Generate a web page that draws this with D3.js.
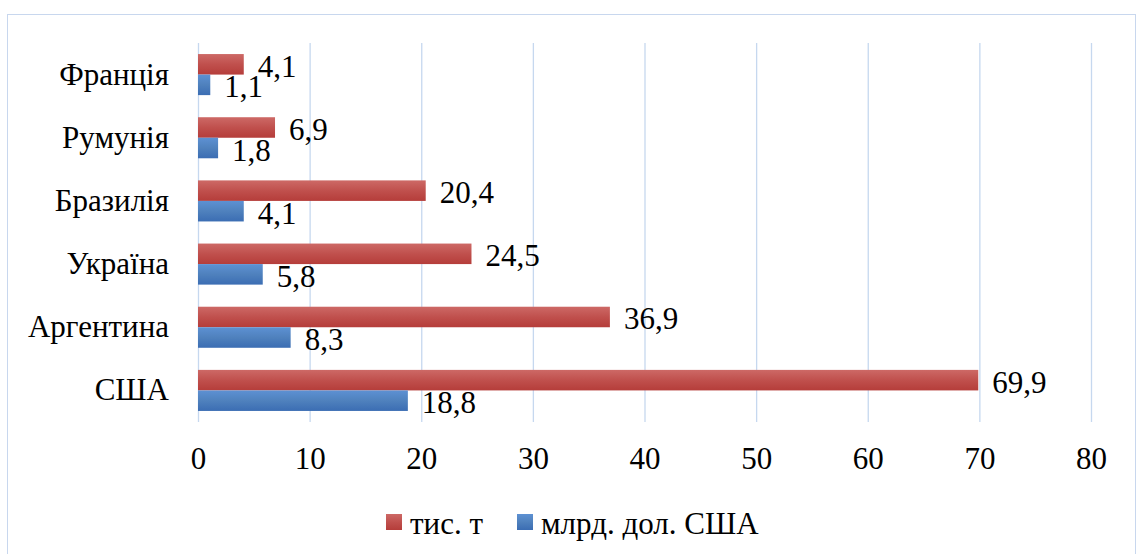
<!DOCTYPE html>
<html>
<head>
<meta charset="utf-8">
<script src="https://cdn.jsdelivr.net/npm/d3@7"></script>
<style>
  body { margin: 0; background: #fff; }
  text { font-family: "Liberation Serif", "Times New Roman", serif; }
</style>
</head>
<body>
<div id="chart"></div>
<script>
// chart data
var countries = ["Франція", "Румунія", "Бразилія", "Україна", "Аргентина", "США"];
var tonnes = [4.1, 6.9, 20.4, 24.5, 36.9, 69.9];
var dollars = [1.1, 1.8, 4.1, 5.8, 8.3, 18.8];
var seriesNames = ["тис. т", "млрд. дол. США"];
var xTicks = [0, 10, 20, 30, 40, 50, 60, 70, 80];

var W = 1138, H = 554;
var margin = {top: 43, right: 47, bottom: 132, left: 198},
    width = W - margin.left - margin.right,
    height = H - margin.top - margin.bottom;
var fontSize = "31px";

var svg = d3.select("#chart").append("svg")
    .attr("width", W)
    .attr("height", H);

// gradients for the bars
var defs = svg.append("defs");
function grad(id, c1, c2, c3) {
    var g = defs.append("linearGradient").attr("id", id)
        .attr("x1", 0).attr("y1", 0).attr("x2", 0).attr("y2", 1);
    g.append("stop").attr("offset", "0%").attr("stop-color", c1);
    g.append("stop").attr("offset", "50%").attr("stop-color", c2);
    g.append("stop").attr("offset", "100%").attr("stop-color", c3);
}
grad("gRed", "#cd6966", "#c0504d", "#b53d3a");
grad("gBlue", "#5d91d3", "#4f81bd", "#3b6db3");

// outer border
svg.append("rect")
    .attr("x", 7.5).attr("y", 14.5)
    .attr("width", 1128).attr("height", 560)
    .attr("fill", "none")
    .attr("stroke", "#c8d7ee")
    .attr("stroke-width", 1);

var g = svg.append("g")
    .attr("transform", "translate(" + margin.left + "," + margin.top + ")");

var x = d3.scaleLinear()
    .domain([0, 80])
    .range([0, width]);

var y = d3.scaleBand()
    .domain(countries)
    .range([0, height])
    .paddingInner(0.35)
    .paddingOuter(0.175);

var sub = d3.scaleBand()
    .domain([0, 1])
    .range([0, y.bandwidth()]);

// gridlines
g.selectAll(".grid")
    .data(xTicks)
    .enter().append("line")
    .attr("x1", function(d) { return x(d) + 0.5; })
    .attr("x2", function(d) { return x(d) + 0.5; })
    .attr("y1", 0)
    .attr("y2", height)
    .attr("stroke", "#c6d8ef")
    .attr("stroke-width", 1.3);

// x axis
var xAxis = g.append("g")
    .attr("transform", "translate(0," + height + ")")
    .call(d3.axisBottom(x).tickValues(xTicks).tickSize(0).tickPadding(25));
xAxis.select(".domain").remove();
xAxis.selectAll("text")
    .style("font-family", "'Liberation Serif', serif")
    .style("font-size", fontSize)
    .attr("fill", "#000");

// y axis
var yAxis = g.append("g")
    .call(d3.axisLeft(y).tickSize(0).tickPadding(29));
yAxis.select(".domain").remove();
yAxis.selectAll("text")
    .style("font-family", "'Liberation Serif', serif")
    .style("font-size", fontSize)
    .attr("fill", "#000");

var fmt = function(v) { return String(v).replace(".", ","); };

var series = [
    {name: seriesNames[0], values: tonnes, fill: "url(#gRed)", idx: 0},
    {name: seriesNames[1], values: dollars, fill: "url(#gBlue)", idx: 1}
];

series.forEach(function(s) {
    g.selectAll(".bar" + s.idx)
        .data(s.values)
        .enter().append("rect")
        .attr("x", x(0))
        .attr("y", function(d, i) { return y(countries[i]) + sub(s.idx); })
        .attr("width", function(d) { return x(d) - x(0); })
        .attr("height", sub.bandwidth())
        .attr("fill", s.fill);

    g.selectAll(".lab" + s.idx)
        .data(s.values)
        .enter().append("text")
        .attr("x", function(d) { return x(d) + 14; })
        .attr("y", function(d, i) { return y(countries[i]) + sub(s.idx) + sub.bandwidth() / 2 + 2; })
        .attr("dominant-baseline", "central")
        .style("font-size", fontSize)
        .attr("fill", "#000")
        .text(function(d) { return fmt(d); });
});

// legend
var legend = svg.append("g").attr("transform", "translate(386,522)");
var legX = [0, 131];
series.forEach(function(s, i) {
    var lg = legend.append("g").attr("transform", "translate(" + legX[i] + ",0)");
    lg.append("rect")
        .attr("x", 0).attr("y", -8)
        .attr("width", 16).attr("height", 16)
        .attr("fill", s.fill);
    lg.append("text")
        .attr("x", 24).attr("y", 1)
        .attr("dominant-baseline", "central")
        .style("font-size", fontSize)
        .attr("fill", "#000")
        .text(s.name);
});
</script>
</body>
</html>
